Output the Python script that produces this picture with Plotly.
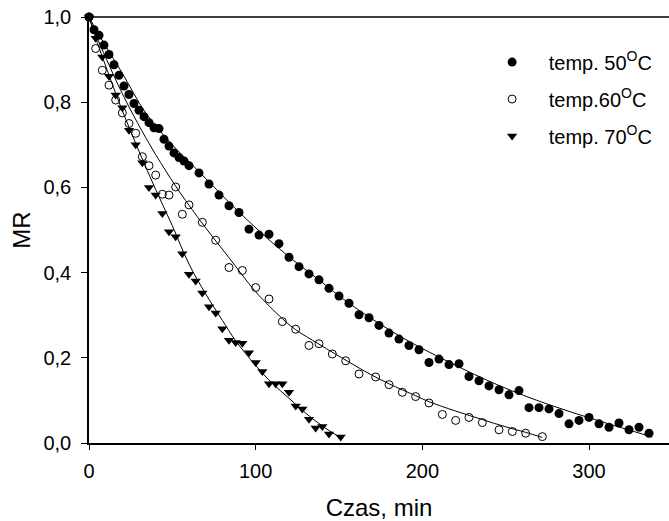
import plotly.graph_objects as go

# ---- data ----
t50 = [0, 3, 6, 9, 12, 15, 18, 21, 24, 27, 30, 33, 36, 39, 42, 45, 48, 51, 54, 57, 60,
       66, 72, 78, 84, 90, 96, 102, 108, 114, 120, 126, 132, 138, 144, 150, 156, 162, 168,
       174, 180, 186, 192, 198, 204, 210, 216, 222, 228, 234, 240, 246, 252, 258, 264, 270,
       276, 282, 288, 294, 300, 306, 312, 318, 324, 330, 336]
mr50 = [1.0, 0.970, 0.957, 0.934, 0.912, 0.888, 0.863, 0.838, 0.818, 0.797, 0.781, 0.766,
        0.752, 0.740, 0.738, 0.713, 0.697, 0.681, 0.670, 0.662, 0.651,
        0.634, 0.608, 0.582, 0.557, 0.541, 0.502, 0.488, 0.490, 0.468, 0.436, 0.414, 0.397,
        0.383, 0.363, 0.345, 0.328, 0.301, 0.294, 0.276, 0.258, 0.244, 0.229, 0.219, 0.189,
        0.197, 0.184, 0.186, 0.156, 0.146, 0.134, 0.125, 0.113, 0.123, 0.083, 0.083, 0.080,
        0.069, 0.045, 0.053, 0.060, 0.045, 0.037, 0.047, 0.031, 0.037, 0.023]

t60 = [0, 4, 8, 12, 16, 20, 24, 28, 32, 36, 40, 44, 48, 52, 56, 60,
       68, 76, 84, 92, 100, 108, 116, 124, 132, 138, 146, 154, 162,
       172, 180, 188, 196, 204, 212, 220, 228, 236, 246, 254, 262, 272]
mr60 = [1.0, 0.926, 0.875, 0.84, 0.805, 0.775, 0.75, 0.727, 0.672, 0.651, 0.629, 0.584,
        0.582, 0.601, 0.537, 0.559,
        0.518, 0.476, 0.412, 0.405, 0.365, 0.338, 0.285, 0.267, 0.229, 0.233, 0.209, 0.193,
        0.162, 0.155, 0.137, 0.119, 0.109, 0.094, 0.067, 0.053, 0.060, 0.048, 0.031, 0.027,
        0.023, 0.015]

t70 = [0, 4, 8, 12, 16, 20, 24, 28, 32, 36, 40, 44, 48, 52, 56, 60, 64, 68, 72, 76, 80,
       84, 88, 92, 96, 100, 104, 108, 112, 116, 120, 124, 128, 132, 136, 140, 144, 151]
mr70 = [1.0, 0.95, 0.906, 0.861, 0.817, 0.787, 0.734, 0.700, 0.658, 0.60, 0.582, 0.539,
        0.496, 0.484, 0.444, 0.396, 0.380, 0.352, 0.320, 0.305, 0.268, 0.241, 0.236, 0.234,
        0.212, 0.189, 0.168, 0.139, 0.139, 0.139, 0.119, 0.087, 0.080, 0.056, 0.035, 0.039,
        0.021, 0.014]

# fitted curves
fit50_t = [0, 5, 10, 20, 34, 50, 66, 84, 102, 120, 138, 156, 186, 216, 246, 276, 306, 338]
fit50_mr = [1.0, 0.965, 0.932, 0.868, 0.775, 0.700, 0.637, 0.565, 0.498, 0.437, 0.383,
            0.328, 0.252, 0.190, 0.135, 0.090, 0.052, 0.014]
fit60_t = [0, 5, 10, 20, 30, 40, 52, 60, 70, 84, 100, 116, 124, 138, 156, 168, 180, 196,
           204, 220, 236, 250, 262, 272]
fit60_mr = [1.0, 0.95, 0.905, 0.82, 0.745, 0.677, 0.603, 0.558, 0.505, 0.435, 0.355, 0.292,
            0.266, 0.232, 0.19, 0.163, 0.139, 0.111, 0.097, 0.075, 0.055, 0.038, 0.025, 0.013]
fit70_t = [0, 5, 10, 20, 30, 40, 50, 60, 70, 80, 88, 100, 110, 120, 130, 140, 151]
fit70_mr = [1.0, 0.94, 0.885, 0.78, 0.685, 0.595, 0.51, 0.42, 0.35, 0.288, 0.24, 0.182,
            0.14, 0.105, 0.07, 0.04, 0.012]

names = ["temp. 50<sup>O</sup>C", "temp.60<sup>O</sup>C", "temp. 70<sup>O</sup>C"]
x_ticks = [0, 100, 200, 300]
y_ticks = [0, 0.2, 0.4, 0.6, 0.8, 1.0]
y_ticktext = ["0,0", "0,2", "0,4", "0,6", "0,8", "1,0"]

pad = "\u00a0\u00a0\u00a0"

fig = go.Figure()
for ft, fm in [(fit50_t, fit50_mr), (fit60_t, fit60_mr), (fit70_t, fit70_mr)]:
    fig.add_trace(go.Scatter(x=ft, y=fm, mode="lines", line=dict(color="black", width=1, shape="spline"),
                             showlegend=False, hoverinfo="skip", cliponaxis=False))

fig.add_trace(go.Scatter(x=t50, y=mr50, mode="markers", name=pad + names[0], legendgroup="a",
                         marker=dict(symbol="circle", size=9, color="black"), cliponaxis=False))
fig.add_trace(go.Scatter(x=t60, y=mr60, mode="markers", name=pad + names[1], legendgroup="b",
                         marker=dict(symbol="circle-open", size=8, color="black", line=dict(width=1, color="black")),
                         cliponaxis=False))
fig.add_trace(go.Scatter(x=t70, y=mr70, mode="markers", name=pad + names[2], legendgroup="c",
                         marker=dict(symbol="triangle-down", size=9, color="black"), cliponaxis=False))

fig.update_layout(
    width=669, height=521,
    margin=dict(l=89, r=0, t=17, b=78),
    paper_bgcolor="white", plot_bgcolor="white",
    font=dict(family="Liberation Sans, Arial, sans-serif", size=20, color="black"),
    legend=dict(x=0.695, y=0.94, xanchor="left", yanchor="top", bgcolor="rgba(0,0,0,0)",
                font=dict(size=20), tracegroupgap=8, traceorder="grouped"),
    shapes=[dict(type="line", xref="paper", yref="paper", x0=0, x1=1, y0=1, y1=1,
                 line=dict(color="black", width=1.5))],
)
fig.update_xaxes(range=[0, 348], showline=True, linecolor="black", linewidth=1.5,
                 ticks="outside", ticklen=5, tickwidth=1, tickcolor="black",
                 tickvals=x_ticks, showgrid=False, zeroline=False, automargin=False,
                 ticklabelstandoff=4,
                 title=dict(text="Czas, min", standoff=22))
fig.update_yaxes(range=[0, 1], showline=True, linecolor="black", linewidth=1.5,
                 ticks="outside", ticklen=6, tickwidth=1, tickcolor="black",
                 tickvals=y_ticks, ticktext=y_ticktext, showgrid=False, zeroline=False,
                 ticklabelstandoff=6, automargin=False,
                 title=dict(text="MR", standoff=6))

fig.write_html("out.html")
